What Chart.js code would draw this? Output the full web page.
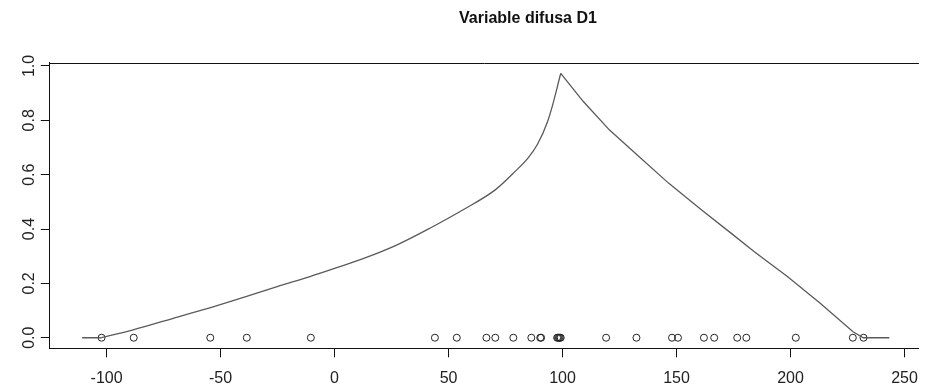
<!DOCTYPE html>
<html>
<head>
<meta charset="utf-8">
<script src="https://cdn.jsdelivr.net/npm/chart.js@4/dist/chart.umd.min.js"></script>
<style>
html,body{margin:0;padding:0;background:#fff;overflow:hidden;}
#wrap{width:930px;height:390px;position:relative;}
</style>
</head>
<body>
<div id="wrap"><canvas id="c" width="930" height="390"></canvas></div>
<script>
// ---- data ----
const titleText = "Variable difusa D1";
const curveX = [-110.7, -102.2, -88.7, -68.5, -54.0, -39.6, -25.2, -10.8, 0.0, 12.8, 27.2, 41.8, 56.2, 70.6, 79.2, 85.0, 89.0, 93.4, 95.6, 97.1, 98.2, 99.2, 109.1, 120.6, 133.6, 146.6, 161.0, 174.0, 184.1, 198.6, 213.0, 227.4, 231.9, 243.3];
const curveY = [0, 0, 0.028, 0.077, 0.112, 0.149, 0.188, 0.225, 0.255, 0.292, 0.341, 0.403, 0.470, 0.545, 0.612, 0.663, 0.712, 0.795, 0.855, 0.903, 0.940, 0.973, 0.869, 0.764, 0.666, 0.568, 0.470, 0.384, 0.316, 0.225, 0.127, 0.022, 0, 0];
const obsX = [-102.2, -88.1, -54.5, -38.5, -10.4, 44.0, 53.6, 66.6, 70.5, 78.4, 86.3, 90.2, 90.6, 97.6, 98.0, 98.4, 98.8, 99.2, 119.1, 132.4, 148.0, 150.6, 162.0, 166.5, 176.6, 180.6, 202.3, 227.3, 232.0];
const obsY = obsX.map(() => 0);
const xTicks = [-100, -50, 0, 50, 100, 150, 200, 250];
const yTicks = [0, 0.2, 0.4, 0.6, 0.8, 1.0];

// split the curve: flat start, smooth rising part, straight remainder (sharp peak kept)
const pts = curveX.map((x, i) => ({x: x, y: curveY[i]}));
const peak = curveY.indexOf(Math.max(...curveY));
const firstRise = 1;
const pointData = obsX.map((x, i) => ({x: x, y: obsY[i]}));

const baseLine = {showLine: true, borderColor: '#5a5a5a', borderWidth: 1.3, pointRadius: 0, fill: false};

const framePlugin = {
  id: 'frame',
  afterDraw(chart) {
    const ctx = chart.ctx, a = chart.chartArea;
    ctx.save();
    ctx.strokeStyle = '#111';
    ctx.lineWidth = 1;
    ctx.beginPath();
    const ty = Math.round(a.top) + 0.5;
    ctx.moveTo(a.left, ty);
    ctx.lineTo(a.right, ty);
    ctx.stroke();
    ctx.fillStyle = '#111';
    ctx.font = 'bold 16px "Liberation Sans", Arial, sans-serif';
    ctx.textAlign = 'center';
    ctx.textBaseline = 'alphabetic';
    ctx.fillText(titleText, 528, 23);
    ctx.restore();
  }
};

Chart.defaults.font.family = '"Liberation Sans", Arial, sans-serif';
Chart.defaults.font.size = 16;
Chart.defaults.color = '#222';

new Chart(document.getElementById('c'), {
  type: 'scatter',
  data: {
    datasets: [
      Object.assign({data: pts.slice(0, firstRise + 1), tension: 0}, baseLine),
      Object.assign({data: pts.slice(firstRise, peak + 1), cubicInterpolationMode: 'monotone'}, baseLine),
      Object.assign({data: pts.slice(peak), tension: 0}, baseLine),
      {
        data: pointData,
        showLine: false,
        pointStyle: 'circle',
        pointRadius: 3.5,
        pointBackgroundColor: 'rgba(0,0,0,0)',
        pointBorderColor: '#222',
        pointBorderWidth: 1
      }
    ]
  },
  options: {
    responsive: false,
    animation: false,
    devicePixelRatio: 1,
    layout: {padding: {top: 62.7, right: 0, left: 0, bottom: 0}},
    plugins: {legend: {display: false}, tooltip: {enabled: false}, title: {display: false}},
    scales: {
      x: {
        type: 'linear',
        min: -124.9,
        max: 256.3,
        afterFit(scale) { scale.height = 41.7; },
        afterBuildTicks(scale) { scale.ticks = xTicks.map(v => ({value: v})); },
        grid: {drawOnChartArea: false, drawTicks: true, tickLength: 9, tickColor: '#111', tickWidth: 1},
        border: {display: true, color: '#111', width: 1},
        ticks: {autoSkip: false, maxRotation: 0, minRotation: 0, padding: 12, color: '#222',
          callback: (v) => String(v)}
      },
      y: {
        type: 'linear',
        min: -0.0389,
        max: 1.012,
        afterFit(scale) { scale.width = 49.8; },
        afterBuildTicks(scale) { scale.ticks = yTicks.map(v => ({value: v})); },
        grid: {drawOnChartArea: false, drawTicks: true, tickLength: 9, tickColor: '#111', tickWidth: 1},
        border: {display: true, color: '#111', width: 1},
        ticks: {autoSkip: false, minRotation: 90, maxRotation: 90, crossAlign: 'center', padding: 0, color: '#222',
          callback: (v) => Number(v).toFixed(1)}
      }
    }
  },
  plugins: [framePlugin]
});
</script>
</body>
</html>
